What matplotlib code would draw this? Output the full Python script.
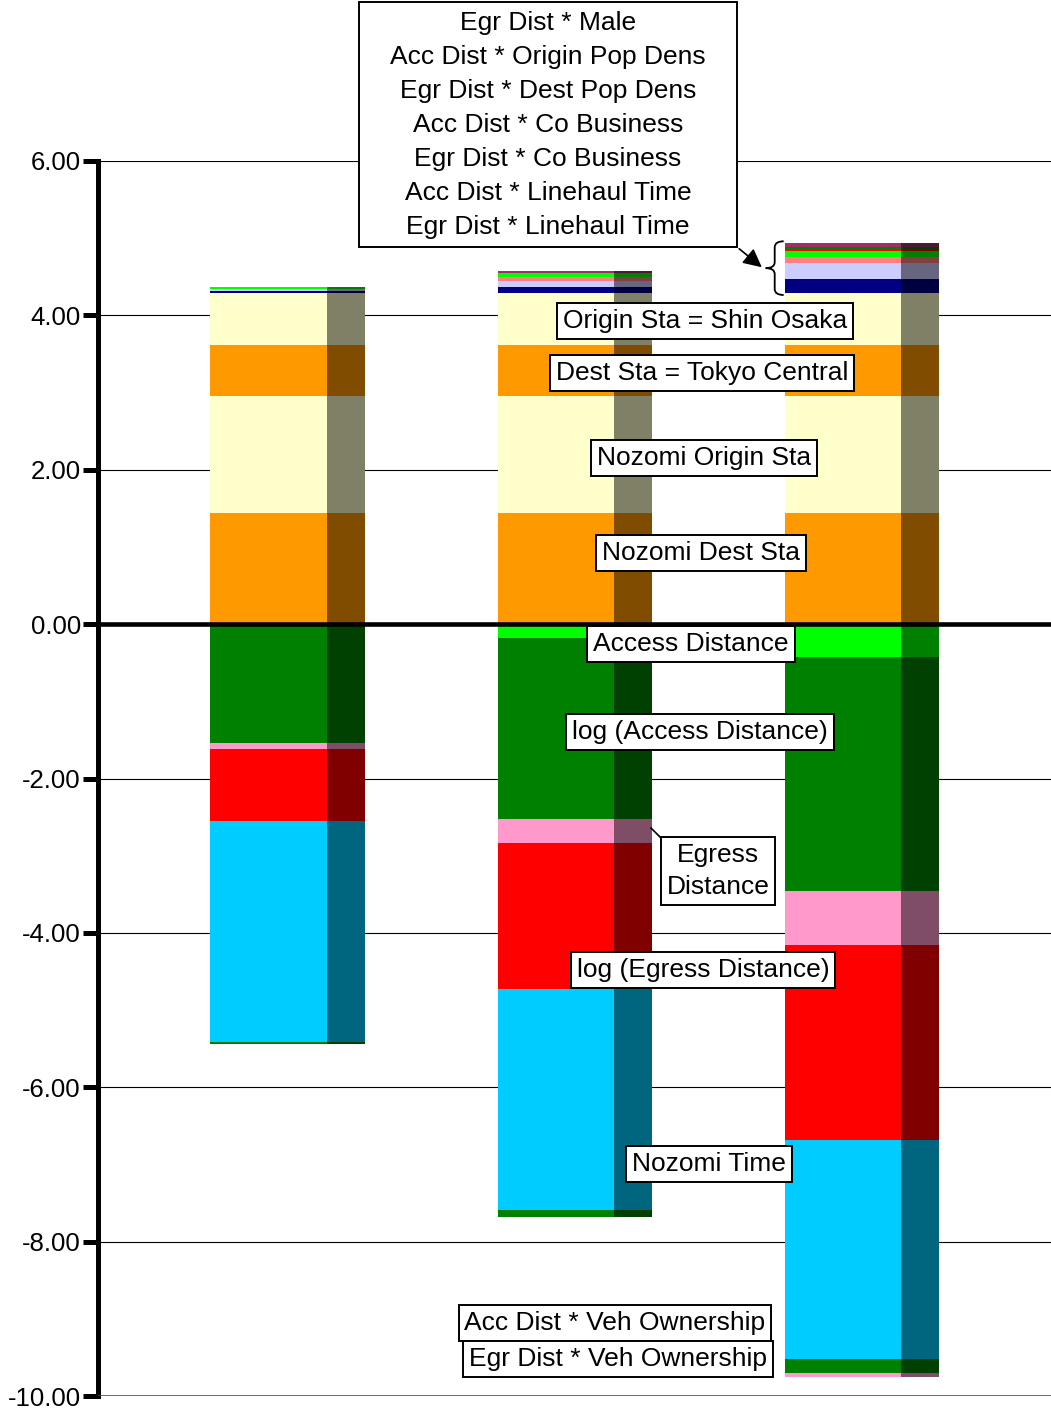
import numpy as np
import matplotlib
matplotlib.use('Agg')
import matplotlib.pyplot as plt
from matplotlib.colors import to_rgb
from matplotlib.patches import Rectangle, FancyArrowPatch, PathPatch
from matplotlib.path import Path

plt.rcParams['font.family'] = ['Liberation Sans', 'DejaVu Sans']

bars = np.array([0, 1, 2])

# positive utility parts, stacked upward from zero
nozomi_dest_sta = [1.44, 1.44, 1.44]
nozomi_origin_sta = [1.52, 1.52, 1.52]
dest_sta_tokyo = [0.66, 0.66, 0.66]
origin_sta_shin_osaka = [0.67, 0.67, 0.67]
egr_linehaul = [0.03, 0.077, 0.18]
acc_linehaul = [0.02, 0.081, 0.206]
egr_co_business = [0.0, 0.052, 0.077]
acc_co_business = [0.026, 0.055, 0.086]
egr_dest_pop = [0.0, 0.0, 0.026]
acc_origin_pop = [0.0, 0.0, 0.026]
egr_male = [0.0, 0.017, 0.043]

# negative utility parts, stacked downward from zero
access_dist = [-0.03, -0.18, -0.42]
log_access_dist = [-1.51, -2.34, -3.04]
egress_dist = [-0.078, -0.31, -0.70]
log_egress_dist = [-0.935, -1.90, -2.52]
nozomi_time = [-2.86, -2.86, -2.84]
acc_veh_own = [-0.026, -0.09, -0.18]
egr_veh_own = [0.0, 0.0, -0.05]

yticks = [-10, -8, -6, -4, -2, 0, 2, 4, 6]

pos_series = [
    (nozomi_dest_sta, '#FF9900'),
    (nozomi_origin_sta, '#FFFFCC'),
    (dest_sta_tokyo, '#FF9900'),
    (origin_sta_shin_osaka, '#FFFFCC'),
    (egr_linehaul, '#000080'),
    (acc_linehaul, '#CCCCFF'),
    (egr_co_business, '#FF8080'),
    (acc_co_business, '#00FF00'),
    (egr_dest_pop, '#FF0000'),
    (acc_origin_pop, '#008000'),
    (egr_male, '#993366'),
]
neg_series = [
    (access_dist, '#00FF00'),
    (log_access_dist, '#008000'),
    (egress_dist, '#FF99CC'),
    (log_egress_dist, '#FF0000'),
    (nozomi_time, '#00CCFF'),
    (acc_veh_own, '#008000'),
    (egr_veh_own, '#FF99CC'),
]

W, H = 1051, 1411
fig = plt.figure(figsize=(W / 100, H / 100), dpi=100)
ax = fig.add_axes([97.5 / W, 15 / H, 1 - 97.5 / W, (1396 - 161) / H])

BW = 0.537   # whole bar width
DW = 0.132   # shaded side width


def shade(c):
    r, g, b = to_rgb(c)
    return (r * 0.5, g * 0.5, b * 0.5)


def stack(series):
    base = np.zeros(len(bars))
    for vals, col in series:
        vals = np.array(vals)
        ax.bar(bars - BW / 2, vals, width=BW - DW, bottom=base, align='edge',
               color=col, lw=0, antialiased=False, zorder=2)
        ax.bar(bars + BW / 2 - DW, vals, width=DW, bottom=base, align='edge',
               color=shade(col), lw=0, antialiased=False, zorder=2)
        base = base + vals
    return base


pos_top = stack(pos_series)
stack(neg_series)

ax.set_xlim(-0.662, 2.659)
ax.set_ylim(-10, 6)
ax.set_yticks(yticks)
ax.set_yticklabels(['%.2f' % v for v in yticks])
ax.set_xticks([])
for s in ['top', 'right', 'bottom']:
    ax.spines[s].set_visible(False)
ax.spines['left'].set_linewidth(3.6)
ax.tick_params(axis='y', direction='out', length=11, width=3.6, labelsize=18.5, pad=1)
ax.yaxis.grid(True, color='black', lw=0.8, zorder=0)
ax.set_axisbelow(True)
ax.axhline(0, color='black', lw=3.3, zorder=5)
ax.axhline(-10, color='#444444', lw=1.8, zorder=5)


def px(x, y):
    return x / W, 1 - y / H


def label(x, y, text, fs=19, ls=1.15):
    fig.text(*px(x, y), text, ha='center', va='center', fontsize=fs,
             linespacing=ls, zorder=10,
             bbox=dict(boxstyle='square,pad=0.22', fc='white', ec='black', lw=1.4))


label(705, 321, 'Origin Sta = Shin Osaka')
label(702, 373, 'Dest Sta = Tokyo Central')
label(704, 458, 'Nozomi Origin Sta')
label(701, 553, 'Nozomi Dest Sta')
label(691, 644, 'Access Distance')
label(700, 732, 'log (Access Distance)')
label(718, 871, 'Egress\nDistance', ls=1.4)
label(703, 970, 'log (Egress Distance)')
label(709, 1164, 'Nozomi Time')
label(615, 1323, 'Acc Dist * Veh Ownership')
label(618, 1359, 'Egr Dist * Veh Ownership')

# leader from the egress segment of the middle bar to its box
fig.add_artist(plt.Line2D([651 / W, 661 / W], [1 - 828 / H, 1 - 838 / H],
                          color='black', lw=1.2))

# legend-like box for the small interaction terms
legend_lines = ['Egr Dist * Male', 'Acc Dist * Origin Pop Dens', 'Egr Dist * Dest Pop Dens',
                'Acc Dist * Co Business', 'Egr Dist * Co Business',
                'Acc Dist * Linehaul Time', 'Egr Dist * Linehaul Time']
fig.add_artist(Rectangle(px(359, 247), 378 / W, 245 / H, fc='white', ec='black',
                         lw=1.4, transform=fig.transFigure, zorder=9))
for i, t in enumerate(legend_lines):
    fig.text(*px(548, 23 + 34 * i), t, ha='center', va='center', fontsize=19, zorder=10)

fig.add_artist(FancyArrowPatch(px(737, 247), px(764, 269), transform=fig.transFigure,
                               arrowstyle='-|>', mutation_scale=28, color='black',
                               lw=1.2, zorder=10))

# curly brace beside the small terms of the third bar
xe, y_top = ax.transData.transform((bars[2] - BW / 2, pos_top[2]))
_, y_bot = ax.transData.transform((bars[2] - BW / 2, sum(v[2] for v, _ in pos_series[:4])))
xe -= 1
y_top += 2
y_bot -= 2
xt = xe - 18
xm = (xe + xt) / 2
ym = (y_top + y_bot) / 2
r = 6
verts = [(xe, y_top), (xm, y_top), (xm, y_top - r), (xm, ym + r), (xm, ym), (xt, ym),
         (xm, ym), (xm, ym - r), (xm, y_bot + r), (xm, y_bot), (xe, y_bot)]
codes = [Path.MOVETO, Path.CURVE3, Path.CURVE3, Path.LINETO, Path.CURVE3, Path.CURVE3,
         Path.CURVE3, Path.CURVE3, Path.LINETO, Path.CURVE3, Path.CURVE3]
fig.add_artist(PathPatch(Path(verts, codes), fc='none', ec='black', lw=1.3,
                         transform=None, zorder=10))

fig.savefig('out.png', dpi=100)
